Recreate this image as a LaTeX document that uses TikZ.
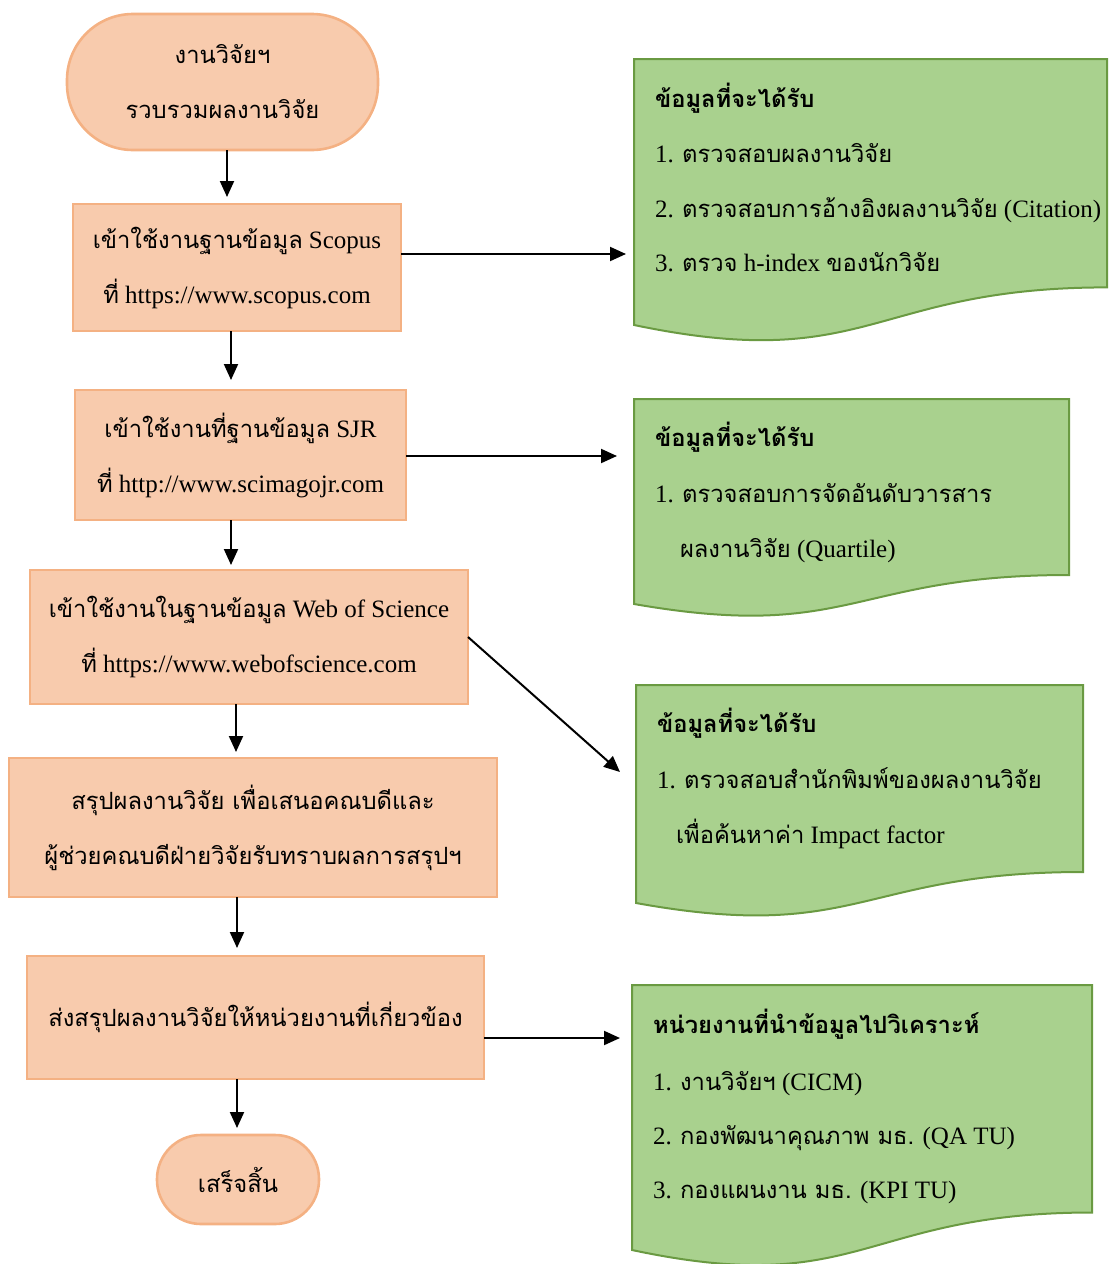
\documentclass[tikz,border=0pt]{standalone}
\usepackage{fontspec}
\setmainfont{Liberation Serif}
\newfontfamily\thai[Script=Thai,Scale=0.95]{Loma}
\usetikzlibrary{arrows.meta,calc}
\definecolor{peach}{HTML}{F8CBAD}
\definecolor{peachline}{HTML}{F4B183}
\definecolor{leaf}{HTML}{A9D18E}
\definecolor{leafline}{HTML}{6A9A42}
\newcommand\T[1]{{\thai #1}}
\begin{document}
\begin{tikzpicture}[x=0.5pt,y=-0.5pt,
  every node/.style={inner sep=0pt,outer sep=0pt},
  txt/.style={font=\fontsize{12.5}{27.5}\selectfont},
  boxstyle/.style={draw=peachline,fill=peach,line width=1.3pt,rectangle,align=center,txt},
  docshape/.style={draw=leafline,fill=leaf,line width=1pt},
  docline/.style={txt,anchor=base west},
  arr/.style={line width=1pt,-{Triangle[length=8pt,width=7pt]}}]
\useasboundingbox (0,0) rectangle (1109,1264);

% flow boxes
\node[boxstyle,rounded corners=33pt,minimum width=155.5pt,minimum height=68pt] (S) at (222.5,82)
  {\T{งานวิจัยฯ}\\\T{รวบรวมผลงานวิจัย}};
\node[boxstyle,minimum width=164pt,minimum height=63.5pt] (b1) at (237,267.5)
  {\T{เข้าใช้งานฐานข้อมูล} Scopus\\\T{ที่} https://www.scopus.com};
\node[boxstyle,minimum width=165.5pt,minimum height=65pt] (b2) at (240.5,455)
  {\T{เข้าใช้งานที่ฐานข้อมูล} SJR\\\T{ที่} http://www.scimagojr.com};
\node[boxstyle,minimum width=219pt,minimum height=67pt] (b3) at (249,637)
  {\T{เข้าใช้งานในฐานข้อมูล} Web of Science\\\T{ที่} https://www.webofscience.com};
\node[boxstyle,minimum width=244pt,minimum height=69.5pt] (b4) at (253,827.5)
  {\T{สรุปผลงานวิจัย เพื่อเสนอคณบดีและ}\\\T{ผู้ช่วยคณบดีฝ่ายวิจัยรับทราบผลการสรุปฯ}};
\node[boxstyle,minimum width=228.5pt,minimum height=61.5pt] (b5) at (255.5,1017.5)
  {\T{ส่งสรุปผลงานวิจัยให้หน่วยงานที่เกี่ยวข้อง}};
\node[boxstyle,rounded corners=22pt,minimum width=81pt,minimum height=44.5pt] (E) at (238,1179.5)
  {\T{เสร็จสิ้น}};

% documents
\draw[docshape] (634,59) -- (1107,59) -- (1107,287.4) .. controls (870.5,287.4) and (870.5,374.4) .. (634,325) -- cycle;
\node[anchor=north west,minimum width=236.5pt,minimum height=133pt] (d1) at (634,59) {};
\draw[docshape] (634,399) -- (1069,399) -- (1069,575) .. controls (851.5,575) and (851.5,642) .. (634,604) -- cycle;
\node[anchor=north west,minimum width=217.5pt,minimum height=102.5pt] (d2) at (634,399) {};
\draw[docshape] (636,685) -- (1083,685) -- (1083,872) .. controls (859.5,872) and (859.5,943.5) .. (636,903) -- cycle;
\node[anchor=north west,minimum width=223.5pt,minimum height=109pt] (d3) at (636,685) {};
\draw[docshape] (632,985) -- (1092,985) -- (1092,1212.5) .. controls (862,1212.5) and (862,1299) .. (632,1250) -- cycle;
\node[anchor=north west,minimum width=230pt,minimum height=132.5pt] (d4) at (632,985) {};

\node[docline] (d1t) at (655,107) {\T{\bfseries ข้อมูลที่จะได้รับ}};
\node[docline] (d1a) at (655,162) {1. \T{ตรวจสอบผลงานวิจัย}};
\node[docline] (d1b) at (655,217) {2. \T{ตรวจสอบการอ้างอิงผลงานวิจัย} (Citation)};
\node[docline] (d1c) at (655,271) {3. \T{ตรวจ} h-index \T{ของนักวิจัย}};

\node[docline] (d2t) at (655,446) {\T{\bfseries ข้อมูลที่จะได้รับ}};
\node[docline] (d2a) at (655,502) {1. \T{ตรวจสอบการจัดอันดับวารสาร}};
\node[docline] (d2b) at (680,557) {\T{ผลงานวิจัย} (Quartile)};

\node[docline] (d3t) at (657,732) {\T{\bfseries ข้อมูลที่จะได้รับ}};
\node[docline] (d3a) at (657,788) {1. \T{ตรวจสอบสำนักพิมพ์ของผลงานวิจัย}};
\node[docline] (d3b) at (676,843) {\T{เพื่อค้นหาค่า} Impact factor};

\node[docline] (d4t) at (653,1033) {\T{\bfseries หน่วยงานที่นำข้อมูลไปวิเคราะห์}};
\node[docline] (d4a) at (653,1090) {1. \T{งานวิจัยฯ} (CICM)};
\node[docline] (d4b) at (653,1144) {2. \T{กองพัฒนาคุณภาพ มธ.} (QA TU)};
\node[docline] (d4c) at (653,1198) {3. \T{กองแผนงาน มธ.} (KPI TU)};

% vertical arrows
\draw[arr,shorten >=3.5pt] ([xshift=2.25pt]S.south) -- ([xshift=2.25pt]S.south |- b1.north);
\draw[arr,shorten >=5pt] ([xshift=-3pt]b1.south) -- ([xshift=-3pt]b1.south |- b2.north);
\draw[arr,shorten >=2.5pt] ([xshift=-4.75pt]b2.south) -- ([xshift=-4.75pt]b2.south |- b3.north);
\draw[arr,shorten >=3pt] ([xshift=-6.5pt]b3.south) -- ([xshift=-6.5pt]b3.south |- b4.north);
\draw[arr,shorten >=4pt] ([xshift=-8pt]b4.south) -- ([xshift=-8pt]b4.south |- b5.north);
\draw[arr,shorten >=3.5pt] ([xshift=-9.25pt]b5.south) -- ([xshift=-9.25pt]b5.south |- E.north);

% side arrows
\draw[arr,shorten >=4pt] ([yshift=6.75pt]b1.east) -- ([yshift=6.75pt]b1.east -| d1.west);
\draw[arr,shorten >=8.5pt] ([yshift=-0.5pt]b2.east) -- ([yshift=-0.5pt]b2.east -| d2.west);
\draw[arr] (b3.east) -- ([xshift=-8pt,yshift=11pt]d3.west);
\draw[arr,shorten >=6pt] ([yshift=-10.25pt]b5.east) -- ([yshift=-10.25pt]b5.east -| d4.west);
\end{tikzpicture}
\end{document}
